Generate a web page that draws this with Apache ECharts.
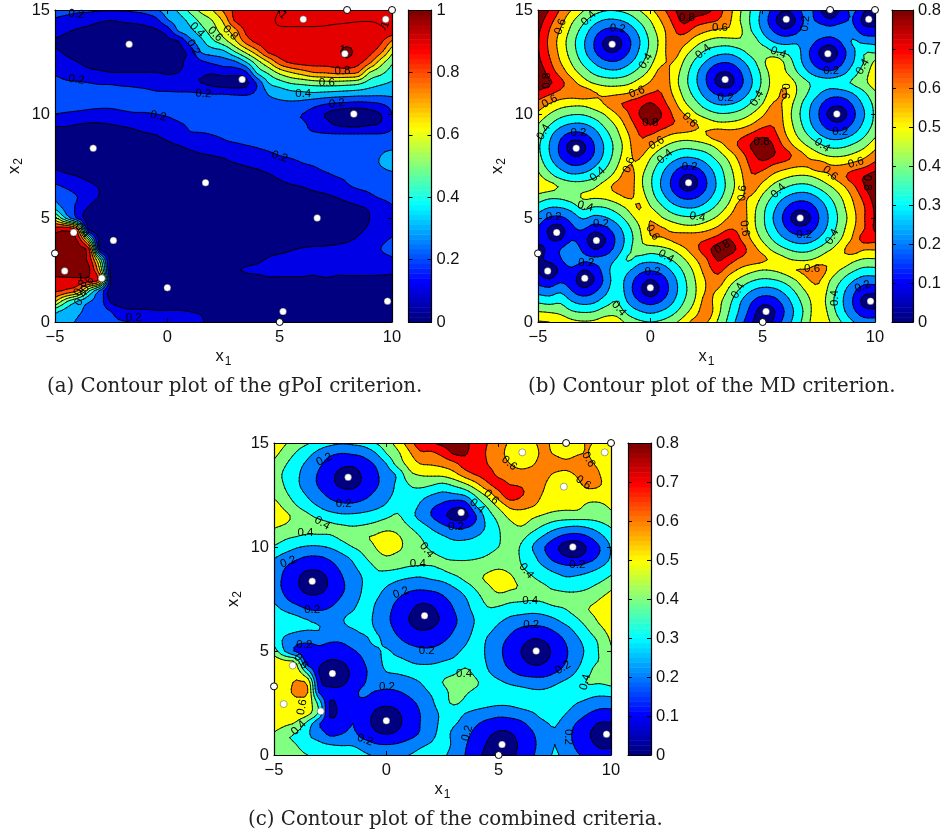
<!DOCTYPE html>
<html><head><meta charset="utf-8"><style>html,body{margin:0;padding:0;background:#fff}#c{width:944px;height:837px}</style>
<script src="https://cdn.jsdelivr.net/npm/echarts@6/dist/echarts.min.js"></script></head><body><div id="c"></div>
<script>
const x1Values=[-5,-4.5,-4,-3.5,-3,-2.5,-2,-1.5,-1,-0.5,0,0.5,1,1.5,2,2.5,3,3.5,4,4.5,5,5.5,6,6.5,7,7.5,8,8.5,9,9.5,10];
const x2Values=[15,14.5,14,13.5,13,12.5,12,11.5,11,10.5,10,9.5,9,8.5,8,7.5,7,6.5,6,5.5,5,4.5,4,3.5,3,2.5,2,1.5,1,0.5,0];
const gpoiRows=[
[23,23,22,22,21,21,21,22,24,29,35,42,53,63,70,82,92,95,96,96,97,97,97,97,97,97,97,97,97,97,97],
[19,17,15,13,11,10,11,12,13,17,29,35,43,53,60,72,91,95,96,97,97,97,97,97,97,97,97,97,97,97,97],
[14,11,9,8,7,7,7,7,8,9,14,31,37,46,55,65,76,92,95,96,97,97,97,97,97,97,97,97,97,97,97],
[9,8,7,6,6,6,6,6,6,7,8,10,26,37,48,56,68,84,93,95,96,97,97,97,97,97,97,97,96,92,79],
[11,9,7,5,5,5,5,5,5,5,6,8,13,31,35,38,50,63,77,92,95,96,96,97,97,98,102,97,93,83,63],
[14,12,10,8,7,7,7,7,7,7,7,8,13,18,22,25,28,40,56,70,85,92,94,94,94,95,97,93,83,65,52],
[19,17,14,12,11,10,10,10,10,10,9,10,12,12,11,14,14,18,42,52,63,70,75,80,81,83,83,80,60,53,45],
[22,21,21,20,19,19,18,18,17,16,15,13,12,10,7,5,4,7,22,40,46,51,53,55,56,56,55,53,46,42,39],
[25,25,25,24,24,23,23,22,22,21,21,21,21,20,19,19,18,18,22,31,34,37,38,39,38,37,36,35,34,33,33],
[24,24,24,23,22,22,23,24,25,26,26,27,27,27,27,27,27,26,26,27,28,28,27,24,21,19,18,17,18,20,24],
[20,19,18,17,17,17,18,19,19,20,21,23,24,25,25,25,25,24,24,23,22,21,20,16,10,6,3,3,6,10,20],
[11,11,10,9,9,10,11,12,14,16,17,19,21,23,23,23,23,23,22,22,21,21,21,18,14,9,7,7,9,11,19],
[7,7,6,6,6,6,7,8,9,10,13,17,19,19,20,21,22,22,22,21,21,21,21,21,21,21,21,21,21,21,22],
[5,5,5,4,4,4,5,5,6,7,8,10,12,14,16,18,19,20,21,22,23,24,25,25,25,25,25,26,26,27,27],
[4,4,4,3,3,3,3,4,5,5,6,7,8,9,10,11,13,14,16,18,20,21,22,23,24,25,26,27,28,30,33],
[8,6,5,4,3,3,3,3,3,4,4,5,5,6,7,8,9,10,11,13,15,17,19,20,22,23,25,26,28,30,33],
[15,12,10,7,4,3,3,3,3,3,3,3,4,4,5,6,7,8,8,9,11,13,15,16,18,20,21,22,24,26,27],
[22,19,16,13,9,4,3,3,3,2,2,2,2,3,3,4,4,5,6,7,8,9,10,12,14,16,19,21,22,24,25],
[28,24,20,15,9,3,2,2,2,2,2,2,2,2,2,3,3,3,4,4,5,5,6,7,8,10,12,15,18,21,23],
[37,26,18,9,3,2,2,2,2,2,2,2,2,2,2,2,2,2,3,3,3,4,4,5,6,7,8,9,11,14,19],
[64,38,18,4,2,2,2,2,2,2,2,2,2,2,2,2,2,2,2,2,2,3,3,3,4,5,6,7,10,13,17],
[93,95,80,5,2,2,2,2,2,2,2,2,2,2,2,2,2,2,2,2,2,2,2,3,3,4,5,8,11,13,15],
[104,104,98,55,4,2,2,2,2,2,2,2,2,2,2,2,2,2,2,2,2,3,3,4,5,6,8,11,14,17,21],
[105,105,103,93,9,3,2,2,2,2,2,2,2,2,3,3,3,4,5,6,7,9,11,12,12,13,14,15,16,20,24],
[105,105,104,97,55,4,2,2,2,2,2,2,2,2,2,3,4,6,8,11,13,14,15,15,15,15,15,15,15,16,18],
[105,106,105,102,70,4,2,2,2,2,2,2,2,2,3,7,9,11,12,13,13,13,13,12,12,11,11,11,11,11,11],
[97,97,97,95,85,7,3,2,2,2,2,2,2,2,2,3,4,5,6,8,8,8,8,8,9,9,9,9,9,9,9],
[92,88,80,52,28,5,2,2,2,2,2,2,2,2,2,2,2,3,3,3,3,3,3,4,4,4,4,4,4,4,4],
[72,52,40,31,25,8,5,4,3,3,3,3,3,2,2,2,2,2,2,2,2,2,2,2,2,2,2,2,2,2,2],
[42,36,32,27,24,20,13,12,12,11,11,11,10,9,6,3,2,2,2,2,2,2,2,2,2,2,2,2,2,2,2],
[38,33,29,26,24,22,21,19,17,16,15,14,12,11,7,3,2,2,2,2,2,2,2,2,2,2,2,2,2,2,2]];
const mdRows=[
[90,80,69,60,51,45,41,41,44,50,58,67,77,88,88,84,75,64,51,39,28,17,11,16,25,12,0,12,22,12,0],
[86,74,64,52,43,34,29,29,33,41,50,61,72,83,76,73,70,62,50,38,26,13,1,11,23,17,12,17,20,7,5],
[82,70,59,47,36,25,18,17,23,33,45,56,68,73,66,61,58,58,52,40,29,19,13,17,27,27,24,27,24,15,14],
[81,68,56,44,32,20,8,6,17,29,42,54,68,64,55,49,46,46,48,46,36,29,26,28,26,18,15,21,31,27,26],
[81,69,57,45,33,21,11,10,19,31,43,55,66,55,46,38,34,33,37,44,46,40,38,34,22,10,3,15,27,39,38],
[83,72,60,49,38,29,22,21,27,36,47,58,60,49,38,29,22,21,27,36,47,58,48,36,24,14,10,18,29,40,52],
[88,76,66,55,46,38,34,33,37,44,53,64,57,45,33,21,11,10,19,31,43,55,51,41,31,24,22,26,35,45,56],
[88,82,73,64,55,49,46,46,48,54,61,69,56,44,32,20,8,6,17,29,42,54,58,49,41,36,34,37,41,47,56],
[77,72,67,65,66,61,58,58,60,65,70,70,59,47,36,25,18,17,23,33,45,56,61,50,40,31,25,25,30,38,48],
[67,60,55,53,53,56,61,68,72,76,81,74,64,52,43,34,29,29,33,41,50,61,58,46,34,23,14,13,21,32,43],
[58,50,44,41,41,45,51,60,69,80,90,80,69,60,51,45,41,41,44,50,58,67,57,44,32,20,7,5,17,29,42],
[50,41,33,29,29,34,43,52,64,74,80,75,70,68,61,56,53,53,55,60,67,69,58,46,34,23,14,13,21,32,43],
[45,33,23,17,18,25,36,47,59,70,70,64,59,57,57,60,66,65,67,72,77,73,61,50,40,31,25,25,30,38,48],
[42,30,18,6,8,20,32,44,56,69,61,53,47,44,45,48,54,64,72,81,88,79,67,57,49,42,37,37,41,47,56],
[43,31,19,10,11,21,33,45,57,62,52,43,36,32,33,37,45,54,65,76,85,80,75,66,59,53,49,49,52,57,65],
[47,36,27,21,22,29,38,49,60,57,46,35,26,20,21,28,37,48,60,72,74,68,64,61,61,65,61,61,64,68,74],
[53,44,37,33,34,38,46,55,66,54,42,30,19,9,10,21,33,45,57,69,65,57,52,49,49,53,59,66,75,80,85],
[57,54,49,46,46,49,55,64,66,54,42,29,18,7,9,20,32,44,56,65,56,47,41,37,37,42,49,57,67,79,88],
[46,42,42,45,51,51,52,56,61,57,45,34,24,18,19,26,36,47,59,59,48,38,30,25,25,31,40,50,61,73,85],
[35,30,30,34,42,39,40,45,52,61,51,42,34,30,30,35,43,53,64,55,43,32,21,13,14,23,34,46,58,69,82],
[26,19,18,24,31,27,29,35,44,54,59,51,45,42,42,46,52,61,67,54,42,29,17,5,7,20,32,44,56,69,81],
[20,9,7,18,21,15,18,26,37,49,61,61,57,54,54,57,62,69,67,55,43,32,21,13,14,23,34,46,58,69,82],
[17,10,9,19,15,3,10,22,34,47,58,59,62,66,67,69,74,80,70,59,48,38,30,25,25,31,40,50,61,74,74],
[5,13,20,26,18,10,14,24,36,47,45,47,51,58,67,76,85,85,76,65,56,47,41,37,37,42,49,57,65,61,61],
[7,13,19,26,22,22,24,31,41,35,33,35,41,49,59,69,81,75,68,65,62,57,52,49,49,53,59,59,53,49,49],
[10,1,13,18,10,14,25,36,32,24,21,24,32,42,53,65,73,65,58,53,50,51,54,60,61,65,57,49,42,37,37],
[16,12,18,15,3,10,23,35,26,15,9,15,26,38,50,61,66,55,47,41,38,39,43,50,59,61,50,40,31,25,25],
[26,24,28,20,14,18,27,37,25,13,4,13,25,37,49,61,59,48,38,30,26,27,33,42,52,58,46,34,23,14,13],
[38,36,38,30,26,28,35,40,29,20,16,20,29,40,51,64,54,43,31,21,14,16,25,36,47,56,44,32,20,7,5],
[50,49,47,41,39,40,45,46,37,31,28,31,37,46,56,66,53,40,28,16,4,9,21,33,45,58,46,34,23,14,13],
[61,60,58,53,51,52,56,55,47,42,40,42,47,55,64,61,49,37,24,12,0,12,24,35,47,59,50,40,31,25,25]];
const combinedRows=[
[57,51,45,41,36,33,31,32,34,40,46,54,65,76,79,83,84,82,76,70,64,59,56,58,63,56,51,56,61,56,51],
[53,46,39,33,27,22,20,21,23,29,40,48,58,68,68,73,81,81,75,69,63,57,51,56,62,59,56,59,60,54,53],
[48,41,34,28,22,16,13,12,16,21,30,44,53,60,61,63,67,75,76,70,65,60,57,59,64,64,62,64,62,58,57],
[45,38,32,25,19,13,7,6,12,18,25,32,47,51,52,53,57,65,71,73,68,65,63,64,63,59,58,61,64,60,53],
[46,39,32,25,19,13,8,8,12,18,25,32,40,43,41,38,42,48,57,68,73,70,69,67,61,55,52,58,62,61,51],
[48,42,35,29,23,18,15,14,17,22,27,33,37,34,30,27,28,31,42,53,66,75,71,65,59,55,54,56,56,53,52],
[54,47,40,34,29,24,22,22,24,27,31,37,35,29,22,18,13,14,31,42,53,63,63,61,56,54,53,53,48,49,51],
[55,52,47,42,37,34,32,32,33,35,38,41,34,27,20,13,6,7,20,35,44,53,56,52,49,46,45,45,44,45,48],
[51,49,46,45,45,42,41,40,41,43,46,46,40,34,28,22,18,18,23,32,40,47,50,45,39,34,31,30,32,36,41],
[46,42,40,38,38,39,42,46,49,51,54,51,46,40,35,31,28,28,30,34,39,45,43,36,29,22,17,16,20,27,35],
[39,35,31,29,29,31,35,40,44,50,55,52,47,43,38,35,33,33,34,37,40,44,39,30,21,13,5,4,12,20,31],
[31,26,22,19,19,22,27,32,39,45,49,47,46,46,42,40,38,38,39,41,44,45,39,33,24,16,11,10,15,22,31],
[26,20,15,12,12,16,22,28,34,40,42,41,39,38,39,41,44,44,45,47,49,47,41,36,31,26,23,23,26,30,35],
[24,18,12,5,6,12,19,25,31,38,35,32,30,29,31,33,37,42,47,52,56,52,46,41,37,34,31,32,34,37,42],
[24,18,12,7,7,12,18,25,31,34,29,25,22,21,22,24,29,34,41,47,53,51,49,45,42,39,38,38,40,44,49],
[28,21,16,13,13,16,21,26,32,31,25,20,16,13,14,18,23,29,36,43,45,43,42,41,42,45,43,44,46,50,54],
[34,28,24,20,19,21,25,29,35,29,23,17,12,7,8,14,20,27,33,39,38,35,34,33,34,37,40,44,50,53,56],
[40,37,33,30,28,27,29,34,35,28,22,16,10,5,6,12,18,25,31,36,32,28,26,25,26,29,34,39,45,52,57],
[37,33,31,30,30,27,27,29,32,30,24,18,13,10,11,15,20,25,32,32,27,22,18,16,17,21,26,33,40,47,54],
[36,28,24,22,23,21,21,24,27,32,27,22,18,16,16,19,23,28,34,29,23,18,13,9,10,15,21,28,35,42,51],
[45,29,18,14,17,15,16,19,23,28,31,27,24,22,22,24,27,32,35,28,22,16,10,4,6,13,19,26,33,41,49],
[56,52,47,12,12,9,10,14,20,26,32,32,30,28,28,30,32,36,35,29,23,17,12,8,9,14,20,27,35,41,49],
[57,57,55,35,10,3,6,12,18,25,30,31,32,34,35,36,38,42,37,31,25,21,17,15,15,19,24,31,38,46,48],
[55,56,61,57,14,7,8,13,19,25,24,25,27,30,35,40,44,45,41,36,32,28,26,25,25,28,32,36,41,41,43],
[56,57,62,60,20,13,13,17,22,19,18,19,22,26,31,36,43,41,38,38,38,36,34,32,32,34,37,37,34,33,34],
[56,54,57,56,36,9,14,19,17,13,12,13,17,22,28,36,41,38,35,33,32,32,34,36,37,38,34,30,27,24,24],
[55,55,56,53,38,9,13,19,14,9,6,9,14,20,26,32,35,30,27,25,23,24,26,29,34,35,30,25,20,17,17],
[56,52,48,36,21,12,15,20,14,8,3,8,14,20,26,32,31,26,21,17,15,15,18,23,28,31,25,19,14,9,9],
[49,42,39,31,26,18,20,22,16,12,10,12,16,21,27,33,28,23,17,12,8,9,14,19,25,29,23,17,11,5,4],
[46,42,40,34,32,30,29,29,25,21,20,21,24,28,31,34,28,21,15,9,3,6,12,18,24,30,24,18,13,8,8],
[48,47,44,40,38,37,39,37,32,29,28,28,30,33,35,32,26,20,13,7,1,7,13,19,25,31,26,21,17,14,14]];
const sampleX=[-1.7,-3.3,1.7,-2.4,-4.17,-4.57,-2.92,0,5.15,6.67,9.8,8.3,3.33,7.9,6.05,9.72];
const sampleY=[13.35,8.35,6.7,3.92,4.3,2.45,2.1,1.65,0.5,5,1,10,11.66,12.9,14.55,14.55];
const edgeX=[-5,5,8,10];
const edgeY=[3.3,0,15,15];
const gpoiTopLine=[[5,15],[4.8,14.5],[5.2,14.2],[6.3,14.2],[7.8,14.35],[8.9,14.45],[9.6,14.2],[9.7,14]];
const gpoiLabels=[[-4.05,14.8,'0.2',-6],[-4.05,11.65,'0.2',-8],[1.6,10.97,'0.2',-3],[-0.4,9.9,'0.2',-12],[1.33,14.04,'0.4',-45],[1.15,13.2,'0.2',-60],[2.13,13.84,'0.6',-45],[2.8,13.9,'0.8',-45],[7.1,11.5,'0.6',0],[7.8,12.07,'0.8',3],[6.05,10.97,'0.4',0],[7.55,10.5,'0.2',5],[5,7.95,'0.2',-18],[5.15,14.76,'1',-45],[7.8,13.1,'1',0],[9.7,14.3,'1',70],[-3.87,2.1,'1',0],[-3.87,1.63,'0.8',60],[-3.55,1.8,'0.6',60],[-3.83,1.15,'0.4',60],[-3.8,4.4,'0.4',-50],[-1.5,0.2,'0.2',0]];
const mdLabels=[[-4,14.2,'0.6',70],[-2.75,14.6,'0.4',45],[-1.45,14.1,'0.2',-5],[-0.2,12.55,'0.4',60],[-0.6,11.06,'0.6',20],[-4.6,11.6,'0.8',90],[-4.48,10.6,'0.6',30],[1.63,14.6,'0.8',0],[-4.75,9.13,'0.4',60],[-3.2,9.08,'0.2',0],[0,9.57,'0.8',0],[0.28,8.6,'0.6',30],[0.65,7.95,'0.4',40],[1.75,7.45,'0.2',0],[-0.95,7.55,'0.6',70],[-2.35,7.1,'0.4',40],[1.75,9.7,'0.6',-45],[3.1,14.15,'0.6',0],[2.35,13,'0.4',40],[3.35,10.8,'0.2',0],[4.75,10.75,'0.4',60],[5.7,12.95,'0.4',-20],[6.9,14.35,'0.2',85],[8.05,12.07,'0.2',0],[9.45,12.27,'0.4',60],[6,11.1,'0.6',-90],[8.45,9.15,'0.2',0],[7.65,8.5,'0.4',-35],[9.15,7.65,'0.6',15],[8,7.15,'0.6',-40],[4.95,8.65,'0.8',0],[4.1,6.2,'0.6',85],[4.2,4.5,'0.6',-80],[5.7,6.3,'0.4',45],[6.85,4.2,'0.2',0],[8.1,4.1,'0.4',60],[3.2,3.6,'0.8',30],[7.2,2.55,'0.6',0],[3.9,1.5,'0.4',60],[8.2,1.15,'0.4',90],[9.45,1.7,'0.2',20],[9.65,6.7,'0.8',-90],[2.1,5.05,'0.4',-10],[-4.3,5.05,'0.2',0],[-2.9,5.55,'0.4',-15],[-2.2,4.7,'0.2',0],[-2.85,2.85,'0.2',0],[0.1,4.3,'0.6',-60],[0.7,3.15,'0.4',-30],[0.1,2.4,'0.2',0],[-1.4,0.65,'0.4',-50]];
const combinedLabels=[[-2.77,14.2,'0.2',25],[-1.9,12.07,'0.2',0],[-2.85,11.15,'0.4',-30],[-3.6,10.67,'0.4',0],[-4.37,9.28,'0.2',20],[1.8,9.85,'0.4',-50],[1.4,9.2,'0.4',0],[0.65,7.8,'0.2',20],[-3.3,6.97,'0.2',0],[-3.65,5.3,'0.2',0],[0.03,3.3,'0.2',0],[1.8,5,'0.2',0],[-0.95,0.72,'0.2',-20],[-3.9,1.3,'0.4',45],[-3.75,2.3,'0.6',80],[-3.8,4.5,'0.6',-50],[5.47,14.03,'0.6',-40],[9,14.2,'0.6',-60],[8.77,13.1,'0.6',-35],[4.67,12.4,'0.6',-45],[4.04,11.97,'0.4',-40],[3.1,10.96,'0.2',0],[8.5,9.13,'0.2',0],[6.23,8.85,'0.4',-50],[6.4,7.4,'0.4',0],[6.45,6.25,'0.2',0],[7.87,4.2,'0.2',30],[3.46,3.9,'0.4',0],[8.85,3.5,'0.4',75],[3.6,1.05,'0.2',75],[8.1,0.87,'0.2',-90]];
const gpoiLevels=[0.1,0.2,0.3,0.4,0.5,0.6,0.7,0.8,0.9,1];
const mdLevels=[0.1,0.2,0.3,0.4,0.5,0.6,0.7,0.8];
const combinedLevels=[0.1,0.2,0.3,0.4,0.5,0.6,0.7,0.8];
const captions=['(a) Contour plot of the gPoI criterion.','(b) Contour plot of the MD criterion.','(c) Contour plot of the combined criteria.'];

function jet(t){const c=v=>Math.round(255*Math.max(0,Math.min(1,v)));
  return 'rgb('+c(1.5-Math.abs(4*t-3))+','+c(1.5-Math.abs(4*t-2))+','+c(1.5-Math.abs(4*t-1))+')';}
const K=3;
function cr(a,b,c,d,t){return 0.5*(2*b+(c-a)*t+(2*a-5*b+4*c-d)*t*t+(3*b-a-3*c+d)*t*t*t);}
function spline(arr,clamp){const n=arr.length,out=[];
  for(let i=0;i<n-1;i++){const a=arr[Math.max(0,i-1)],b=arr[i],c=arr[i+1],d=arr[Math.min(n-1,i+2)];
    const steep=clamp&&(Math.abs(c-b)>0.2||Math.abs(b-a)>0.2||Math.abs(d-c)>0.2);
    for(let k=0;k<K;k++){let v=cr(a,b,c,d,k/K);
      if(steep)v=Math.max(Math.min(b,c),Math.min(Math.max(b,c),v));
      out.push(v);}}
  out.push(arr[n-1]);return out;}
function fine(rows,clamp){
  const r=rows.map(row=>spline(row.map(v=>v/100),clamp));
  const cols=[];for(let i=0;i<r[0].length;i++){cols.push(spline(r.map(row=>row[i]),clamp));}
  return cols;
}
function contours(rows,levels,clamp){
  const F=fine(rows,clamp),xs=spline(x1Values),ys=spline(x2Values),nx=xs.length,ny=ys.length;
  const regions=[],lines=[];
  levels.forEach(L=>{
    const polys=[];
    for(let j=0;j<ny-1;j++){
      let run=-1;
      const flush=(i)=>{if(run>=0){polys.push([[xs[run],ys[j]],[xs[i],ys[j]],[xs[i],ys[j+1]],[xs[run],ys[j+1]]]);run=-1;}};
      for(let i=0;i<nx-1;i++){
        const c=[[xs[i],ys[j],F[i][j]],[xs[i+1],ys[j],F[i+1][j]],[xs[i+1],ys[j+1],F[i+1][j+1]],[xs[i],ys[j+1],F[i][j+1]]];
        const pts=[];let inside=0;
        for(let m=0;m<4;m++){const p=c[m],q=c[(m+1)%4],pi=p[2]>=L,qi=q[2]>=L;
          if(pi){pts.push([p[0],p[1]]);inside++;}
          if(pi!==qi){const t=(L-p[2])/(q[2]-p[2]);pts.push([p[0]+t*(q[0]-p[0]),p[1]+t*(q[1]-p[1])]);}}
        if(inside===4){if(run<0)run=i;continue;}
        flush(i);
        if(inside>0)polys.push(pts);
        const cross=[];
        for(let m=0;m<4;m++){const p=c[m],q=c[(m+1)%4];
          if((p[2]>=L)!==(q[2]>=L)){const t=(L-p[2])/(q[2]-p[2]);cross.push([p[0]+t*(q[0]-p[0]),p[1]+t*(q[1]-p[1])]);}}
        if(cross.length>=2)lines.push([cross[0],cross[1]]);
        if(cross.length===4)lines.push([cross[2],cross[3]]);
      }
      flush(nx-1);
    }
    regions.push(polys);
  });
  return {regions,lines};
}
function toPath(api,polys,close){
  const s=[];
  for(const poly of polys){
    for(let i=0;i<poly.length;i++){const p=api.coord(poly[i]);s.push((i?'L':'M')+p[0].toFixed(2)+' '+p[1].toFixed(2));}
    if(close)s.push('Z');
  }
  return s.join('');
}
const opt={animation:false,backgroundColor:'#fff',title:[],grid:[],xAxis:[],yAxis:[],series:[]};
const FF='"Liberation Sans"';
const axisBase=(extra)=>Object.assign({type:'value',z:10,silent:true,splitLine:{show:false},
  axisLine:{show:true,onZero:false,lineStyle:{color:'#000',width:1.2}},
  axisTick:{show:true,inside:true,length:4,lineStyle:{color:'#000',width:1}}},extra);
const lab=(show,extra)=>Object.assign({show,color:'#111',fontFamily:FF,fontSize:16.5,margin:5,showMinLabel:true,showMaxLabel:true},extra||{});
const neg=v=>String(v).replace('-','\u2212');
const nameRich={a:{fontFamily:FF,fontSize:16.5,color:'#111',lineHeight:22},b:{fontFamily:FF,fontSize:12,color:'#111',lineHeight:22,verticalAlign:'bottom',padding:[9,0,0,1]}};

function panel(rows,levels,cmax,labels,pos,barPos,barMax,barInt,clamp){
  const g=opt.grid.length;
  opt.grid.push({left:pos[0],top:pos[1],width:337,height:312});
  opt.grid.push({left:barPos,top:pos[1],width:23,height:312});
  const xi=opt.xAxis.length,yi=opt.yAxis.length;
  opt.xAxis.push(axisBase({gridIndex:g,min:-5,max:10,interval:5,position:'bottom',axisLabel:lab(true,{formatter:neg,margin:7}),
    name:'{a|x}{b|1}',nameLocation:'middle',nameGap:16,nameTextStyle:{rich:nameRich}}));
  opt.xAxis.push(axisBase({gridIndex:g,min:-5,max:10,interval:5,position:'top',axisLabel:{show:false}}));
  opt.yAxis.push(axisBase({gridIndex:g,min:0,max:15,interval:5,position:'left',axisLabel:lab(true),
    name:'{a|x}{b|2}',nameLocation:'middle',nameGap:30,nameTextStyle:{rich:nameRich}}));
  opt.yAxis.push(axisBase({gridIndex:g,min:0,max:15,interval:5,position:'right',axisLabel:{show:false}}));
  opt.xAxis.push(axisBase({gridIndex:g+1,min:0,max:1,position:'bottom',axisTick:{show:false},axisLabel:{show:false}}));
  opt.xAxis.push(axisBase({gridIndex:g+1,min:0,max:1,position:'top',axisTick:{show:false},axisLabel:{show:false}}));
  opt.yAxis.push(axisBase({gridIndex:g+1,min:0,max:barMax,interval:barInt,position:'right',axisLabel:lab(true)}));
  opt.yAxis.push(axisBase({gridIndex:g+1,min:0,max:barMax,interval:barInt,position:'left',axisLabel:{show:false}}));
  const C=contours(rows,levels,clamp);
  const full=[[[-5,15],[10,15],[10,0],[-5,0]]];
  const items=[{polys:full,fill:jet(0)}];
  levels.forEach((L,i)=>items.push({polys:C.regions[i],fill:jet(L/cmax)}));
  items.push({polys:C.lines,line:true});
  opt.series.push({type:'custom',coordinateSystem:'cartesian2d',xAxisIndex:xi,yAxisIndex:yi,silent:true,clip:true,z:2,
    data:items.map(()=>[0,0]),
    renderItem(params,api){const it=items[params.dataIndex];
      const d=toPath(api,it.polys,!it.line);
      if(!d)return null;
      return {type:'path',shape:{pathData:d},silent:true,
        style:it.line?{fill:'none',stroke:'#000',lineWidth:0.9,lineCap:'round'}:{fill:it.fill}};}});
  opt.series.push({type:'custom',coordinateSystem:'cartesian2d',xAxisIndex:xi,yAxisIndex:yi,silent:true,z:4,
    data:labels.map(()=>[0,0]),
    renderItem(params,api){const l=labels[params.dataIndex],p=api.coord([l[0],l[1]]);
      return {type:'text',x:p[0],y:p[1],rotation:l[3]*Math.PI/180,silent:true,
        style:{text:l[2],fill:'#000',font:'11.5px '+FF,align:'center',verticalAlign:'middle'}};}});
  opt.series.push({type:'scatter',xAxisIndex:xi,yAxisIndex:yi,silent:true,z:12,clip:false,symbolSize:7,
    data:sampleX.map((x,i)=>[x,sampleY[i]]),itemStyle:{color:'#fff',borderColor:'#222',borderWidth:0.4,opacity:1}});
  opt.series.push({type:'scatter',xAxisIndex:xi,yAxisIndex:yi,silent:true,z:12,clip:false,symbolSize:7,
    data:edgeX.map((x,i)=>[x,edgeY[i]]),itemStyle:{color:'#fff',borderColor:'#000',borderWidth:1,opacity:1}});
  const steps=[];for(let i=0;i<64;i++)steps.push(i);
  opt.series.push({type:'custom',coordinateSystem:'cartesian2d',xAxisIndex:xi+2,yAxisIndex:yi+2,silent:true,z:2,
    data:steps.map(s=>[0,s]),
    renderItem(params,api){const s=steps[params.dataIndex];
      const a=api.coord([0,s*barMax/64]),b=api.coord([1,(s+1)*barMax/64]);
      return {type:'rect',silent:true,shape:{x:a[0],y:b[1],width:b[0]-a[0],height:a[1]-b[1]+0.5},style:{fill:jet(s/63)}};}});
  return xi;
}
const xa=panel(gpoiRows,gpoiLevels,1,gpoiLabels,[55,10],408.5,1,0.2,true);
opt.series.push({type:'line',xAxisIndex:xa,yAxisIndex:0,silent:true,z:3,smooth:true,showSymbol:false,data:gpoiTopLine,lineStyle:{color:'#000',width:0.9}});
panel(mdRows,mdLevels,0.8,mdLabels,[538,10],892,0.8,0.1,false);
panel(combinedRows,combinedLevels,0.8,combinedLabels,[274,443],628,0.8,0.1,true);
const capStyle={fontFamily:'"DejaVu Serif"',fontWeight:'normal',fontSize:19.8,color:'#222'};
opt.title=[{text:captions[0],left:47,top:377,textStyle:capStyle,padding:0},
 {text:captions[1],left:528,top:377,textStyle:capStyle,padding:0},
 {text:captions[2],left:248,top:810,textStyle:capStyle,padding:0}];
const chart=echarts.init(document.getElementById('c'),null,{renderer:'canvas'});
chart.setOption(opt);
</script></body></html>
